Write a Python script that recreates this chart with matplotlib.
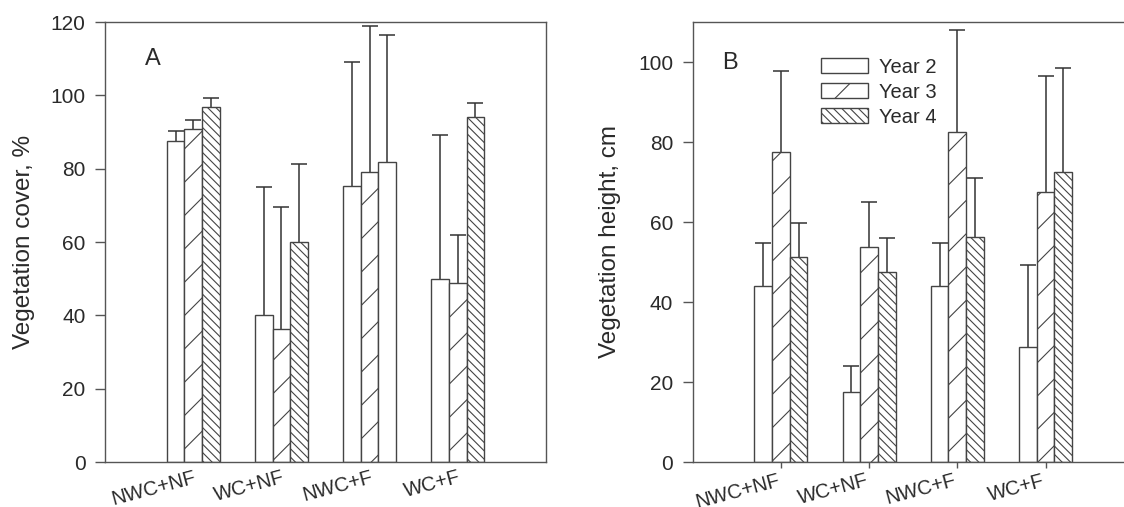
import numpy as np
import matplotlib
matplotlib.use('Agg')
import matplotlib.pyplot as plt
import matplotlib.transforms as mtransforms

plt.rcParams['font.family'] = ['Liberation Sans', 'DejaVu Sans']
plt.rcParams['hatch.linewidth'] = 0.8
plt.rcParams['hatch.color'] = '#333333'

# data
groups = ['NWC+NF', 'WC+NF', 'NWC+F', 'WC+F']
years = ['Year 2', 'Year 3', 'Year 4']

# panel A: vegetation cover (%)
cover_y2 = [87.5, 40.0, 75.3, 50.0]
cover_y3 = [90.8, 36.3, 79.2, 48.8]
cover_y4 = [96.8, 60.0, 81.8, 94.2]
cover_err_y2 = [2.7, 34.9, 33.8, 39.1]
cover_err_y3 = [2.6, 33.2, 39.7, 13.1]
cover_err_y4 = [2.5, 21.2, 34.7, 3.6]

# panel B: vegetation height (cm)
height_y2 = [43.9, 17.5, 43.9, 28.8]
height_y3 = [77.5, 53.8, 82.6, 67.5]
height_y4 = [51.3, 47.6, 56.3, 72.5]
height_err_y2 = [10.9, 6.5, 10.9, 20.5]
height_err_y3 = [20.3, 11.1, 25.3, 29.0]
height_err_y4 = [8.5, 8.5, 14.8, 26.0]

hatches = ['', '/', '\\\\\\\\']
edge = '#444444'
txt = '#2a2a2a'
fs = 14.5

fig = plt.figure(figsize=(11.24, 5.07), dpi=100)
axA = fig.add_axes([105/1124, 45/507, 441/1124, 440/507])
axB = fig.add_axes([692.7/1124, 45/507, 441/1124, 440/507])

x = np.arange(1, len(groups) + 1)
w = 0.2
offs = [-w, 0, w]


def draw(ax, means, errs):
    bars = []
    for i in range(3):
        b = ax.bar(x + offs[i], means[i], width=w, color='white', edgecolor=edge,
                   linewidth=1.0, hatch=hatches[i], label=years[i], zorder=2)
        bars.append(b)
        eb = ax.errorbar(x + offs[i], means[i],
                         yerr=[np.zeros(len(groups)), errs[i]],
                         fmt='none', ecolor='#333333', elinewidth=1.1,
                         capsize=5.8, capthick=1.1, zorder=1)
        eb[1][0].set_visible(False)
    for s in ax.spines.values():
        s.set_color('#555555')
        s.set_linewidth(1.0)
    ax.set_xlim(0, 5)
    ax.set_xticks(x)
    ax.set_xticklabels(groups, rotation=15, ha='right', rotation_mode='anchor',
                       fontsize=fs, color=txt)
    ax.tick_params(axis='y', direction='out', length=7, width=1.0, pad=7,
                   labelsize=fs + 0.5, colors='#555555', labelcolor=txt)
    return bars


barsA = draw(axA, [cover_y2, cover_y3, cover_y4],
             [cover_err_y2, cover_err_y3, cover_err_y4])
barsA[2][2].set_hatch('')  # NWC+F year 4 drawn without hatch in the original
axA.set_ylim(0, 120)
axA.set_yticks(np.arange(0, 121, 20))
axA.tick_params(axis='x', length=0, pad=4.4)
axA.set_ylabel('Vegetation cover, %', fontsize=fs + 3, color=txt)
axA.yaxis.set_label_coords(-0.159, 0.5)
axA.text(0.109, 0.917, 'A', transform=axA.transAxes, fontsize=17,
         ha='center', va='center', color=txt)

draw(axB, [height_y2, height_y3, height_y4],
     [height_err_y2, height_err_y3, height_err_y4])
axB.set_ylim(0, 110)
axB.set_yticks(np.arange(0, 101, 20))
axB.tick_params(axis='x', direction='out', length=4.3, width=1.0, pad=3.0,
                colors='#555555', labelcolor=txt)
# nudge B labels left of their ticks like the original
shift = mtransforms.ScaledTranslation(-4/100, 1/100, fig.dpi_scale_trans)
for lab in axB.get_xticklabels():
    lab.set_transform(lab.get_transform() + shift)
axB.set_ylabel('Vegetation height, cm', fontsize=fs + 3, color=txt)
axB.yaxis.set_label_coords(-0.163, 0.5)
axB.text(0.085, 0.907, 'B', transform=axB.transAxes, fontsize=17,
         ha='center', va='center', color=txt)

leg = axB.legend(loc='upper left', bbox_to_anchor=(0.29, 0.919), frameon=False,
                 fontsize=fs, handlelength=2.33, handleheight=0.75,
                 handletextpad=0.55, labelspacing=0.3, borderpad=0,
                 borderaxespad=0)
for t in leg.get_texts():
    t.set_color(txt)

fig.savefig('out.png', dpi=100)
